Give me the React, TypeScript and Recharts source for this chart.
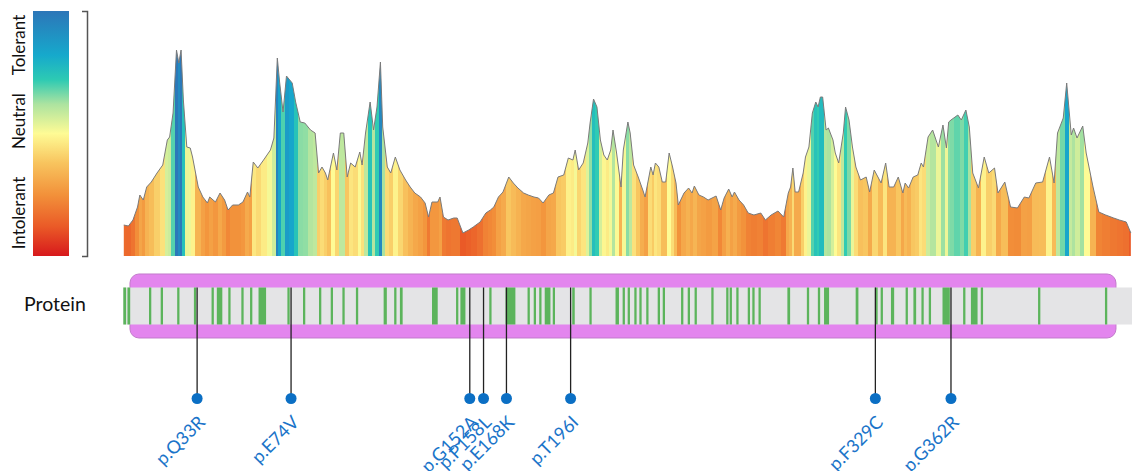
import React from "react";
import {
  ComposedChart,
  Area,
  XAxis,
  YAxis,
  ReferenceArea,
  ReferenceLine,
  Scatter,
} from "recharts";

// tolerance landscape, sampled along the protein (residue, score)
const residues = [
  1, 3, 5, 7, 8, 9.5, 11, 13, 15.5, 18, 20, 21, 22.5, 24, 25, 26, 27, 28.5, 30, 31,
  33.5, 35.5, 37.5, 38.5, 41, 43, 45, 46.5, 48.5, 51, 53, 55, 56, 57.5, 59.5, 62, 65,
  66.5, 68, 69, 70.5, 72, 74.5, 76, 78, 80, 82.5, 84.5, 86, 87.5, 89, 90, 92.5, 94,
  95.5, 97, 98.5, 100, 102, 104, 105, 106.5, 108.5, 110, 111.5, 113, 114, 116, 117.5,
  119.5, 121.5, 124, 126, 128, 130.5, 132.5, 134, 135.5, 138, 139, 140.5, 142.5, 145,
  146.5, 149, 151.5, 153.5, 156.5, 159, 161, 162.5, 164.5, 166.5, 169, 171, 173,
  175.5, 177.5, 180, 182, 184, 186.5, 188.5, 190.5, 193, 195, 197, 198, 199.5, 201.5,
  203.5, 204.5, 206, 207.5, 209, 210.5, 212, 213.5, 214.5, 216, 218, 219, 221, 222,
  223.5, 225.5, 227.5, 228.5, 231, 232, 233, 234.5, 236, 237.5, 239, 240.5, 242, 243,
  245.5, 247.5, 249, 250, 252, 254, 256, 259.5, 261.5, 263, 265, 266.5, 267.5, 269.5,
  271.5, 273.5, 276, 279, 281, 283.5, 286.5, 289, 291, 292, 293, 294, 295.5, 297.5,
  298.5, 300, 301.5, 303, 304, 305, 306, 307.5, 308.5, 310.5, 311.5, 313, 315, 316,
  317.5, 319, 320.5, 322.5, 325, 326.5, 328.5, 331.5, 333.5, 335, 337, 339, 341, 342,
  343.5, 345.5, 347.5, 349, 350, 352, 354, 356.5, 358.5, 360, 361, 362, 365, 366.5,
  368.5, 370, 371.5, 374, 376.5, 378.5, 381, 382.5, 385.5, 388, 391, 394, 396, 399,
  402, 405, 407, 408.5, 411, 412.5, 414.5, 415.5, 417, 419.5, 421, 424, 426.5, 429.5,
  433, 435.5, 438.5, 440.5,
];
const scores = [
  15.5, 15, 18, 24.5, 30.5, 28, 34.5, 37, 41.5, 45.5, 58, 59.5, 71.5, 103, 96.5, 103,
  78, 54.5, 54, 49.5, 34.5, 29.5, 26.5, 29.5, 27, 31.5, 28, 23, 25.5, 25.5, 27, 32,
  29.5, 47, 44, 48, 53, 59, 99, 87, 72, 90, 86.5, 77, 67, 66.5, 63, 61.5, 41.5, 44.5,
  41.5, 38, 51.5, 43, 61.5, 61.5, 39.5, 46.5, 44.5, 52, 45.5, 61.5, 77, 63, 74.5, 97,
  64.5, 44.5, 41.5, 49.5, 43, 38, 34.5, 31.5, 29.5, 26.5, 19.5, 27, 27, 29.5, 19.5,
  18, 19, 19, 11.5, 13, 14.5, 17, 21.5, 23, 24.5, 29.5, 32, 39.5, 36.5, 34, 31.5,
  30.5, 29.5, 29, 26.5, 30.5, 31.5, 39.5, 40.5, 49, 48, 53, 43, 46.5, 56.5, 66.5,
  78.5, 74.5, 58, 50.5, 48, 53, 63, 52, 34.5, 53, 67, 61.5, 45.5, 39.5, 33, 29.5,
  44.5, 40.5, 46.5, 44.5, 37, 37, 51.5, 44.5, 36.5, 25.5, 31.5, 34, 31.5, 35, 30.5,
  29.5, 28, 30, 23, 29, 33.5, 29.5, 32, 28, 25.5, 21.5, 20.5, 21.5, 18, 20.5, 22.5,
  19.5, 31.5, 34.5, 44, 32, 32, 41.5, 49.5, 54.5, 71.5, 77, 74.5, 79.5, 79.5, 63, 64,
  58, 51.5, 46.5, 61.5, 74.5, 68, 54.5, 44.5, 38, 39.5, 32, 43, 36.5, 46.5, 34.5,
  34.5, 39.5, 31.5, 36.5, 34, 39.5, 40.5, 46.5, 44.5, 59.5, 63, 54.5, 65.5, 54, 67,
  68, 70.5, 68, 73, 64.5, 41.5, 34, 49.5, 41.5, 44, 31.5, 37, 24.5, 24, 29.5, 29,
  36.5, 37, 49.5, 36.5, 61.5, 69, 86.5, 60.5, 64, 59, 65, 51.5, 34.5, 22, 20.5, 19,
  18, 17, 11.5,
];

// conserved / annotated residue ranges shown in green on the protein track
const stripes: [number, number][] = [
  [0.8, 2], [2.6, 3.8], [12, 13], [17.1, 18.1], [24.3, 25.3], [31.6, 32.6],
  [39.3, 40.3], [41.6, 44], [46.6, 47.6], [52.3, 53.3], [56.1, 57.1], [59.8, 63.1],
  [72.4, 73.4], [79.2, 80.2], [86.2, 87.2], [91.3, 92.3], [96.4, 97.4],
  [102.3, 103.3], [114.4, 115.8], [119, 120], [121.5, 122.7], [135.5, 138],
  [146, 147], [147.9, 150.1], [160.5, 161.5], [167.6, 171.9], [177.2, 178.2],
  [179.9, 180.9], [182.3, 183.3], [184.7, 187.2], [188.2, 189.2], [196.7, 197.8],
  [204.2, 205.2], [215.6, 217.1], [218.7, 219.7], [220.9, 221.9], [223.8, 224.8],
  [226, 227], [229, 230], [234, 235], [236.2, 237.2], [244.2, 245.2], [247.1, 248.1],
  [250.1, 251.1], [257.4, 258.4], [263.9, 264.9], [265.4, 266.4], [268.3, 269.3],
  [273.3, 274.3], [275.3, 276.3], [278, 279], [290.6, 291.8], [299.1, 300.1],
  [303.9, 304.9], [306.6, 308.8], [320.4, 321.6], [329, 330], [331.3, 332.3],
  [335.8, 337.2], [342.2, 343.2], [345.6, 346.8], [349.1, 350.1], [352.3, 353.3],
  [358.3, 361.5], [367.3, 368.3], [370.7, 373.6], [375, 376], [400, 401],
  [429.2, 430.2],
];

const variantNames = ["p.Q33R", "p.E74V", "p.G152A", "p.P158L", "p.E168K", "p.T196I", "p.F329C", "p.G362R"];
const variantPos = [33, 74, 152, 158, 168, 196, 329, 362];

const PROTEIN_LEN = 441;

const RAMP: [number, string][] = [
  [0, "#d7191c"],
  [0.12, "#ea5a27"],
  [0.25, "#f2913a"],
  [0.38, "#f8c45e"],
  [0.5, "#fefb95"],
  [0.62, "#ace3a0"],
  [0.72, "#2dcab3"],
  [0.82, "#16a9cc"],
  [1, "#2c76b8"],
];

function hexToRgb(h: string) {
  const n = parseInt(h.slice(1), 16);
  return [(n >> 16) & 255, (n >> 8) & 255, n & 255];
}

function rampColor(t: number): string {
  t = Math.max(0, Math.min(1, t));
  for (let i = 1; i < RAMP.length; i++) {
    const [t1, c1] = RAMP[i];
    const [t0, c0] = RAMP[i - 1];
    if (t <= t1) {
      const f = (t - t0) / (t1 - t0);
      const a = hexToRgb(c0);
      const b = hexToRgb(c1);
      const m = a.map((v, k) => Math.round(v + (b[k] - v) * f));
      return `rgb(${m[0]},${m[1]},${m[2]})`;
    }
  }
  return RAMP[RAMP.length - 1][1];
}

const scoreColor = (s: number) => rampColor(s * 0.0095 + 0.01);

const landscape = residues.map((r, i) => ({ r, score: scores[i] }));
const variants = variantPos.map((pos, i) => ({ pos, lane: -5, name: variantNames[i] }));

function stripeStops() {
  const r0 = residues[0];
  const rN = residues[residues.length - 1];
  const span = rN - r0;
  const out: React.ReactNode[] = [];
  residues.forEach((r, i) => {
    const a = i === 0 ? r0 : (residues[i - 1] + r) / 2;
    const b = i === residues.length - 1 ? rN : (r + residues[i + 1]) / 2;
    const c = scoreColor(scores[i]);
    out.push(<stop key={`a${i}`} offset={(a - r0) / span} stopColor={c} />);
    out.push(<stop key={`b${i}`} offset={(b - r0) / span} stopColor={c} />);
  });
  return out;
}

const Capsule = (p: any) => (
  <rect
    x={p.x}
    y={p.y}
    width={p.width}
    height={p.height}
    rx={9}
    ry={9}
    fill="#e385ee"
    stroke="#c27bcb"
    strokeWidth={1}
  />
);

const VariantMark = (p: any) => {
  const { cx, cy, payload } = p;
  const tx = cx + 9;
  const ty = cy + 25;
  return (
    <g>
      <circle cx={cx} cy={cy} r={5.5} fill="#0b6fc4" />
      <text
        x={tx}
        y={ty}
        transform={`rotate(-45, ${tx}, ${ty})`}
        textAnchor="end"
        fill="#1a74c9"
        fontSize={18}
        fontFamily="Lato, 'Noto Sans', sans-serif"
      >
        {payload.name}
      </text>
    </g>
  );
};

function Legend() {
  return (
    <svg width={120} height={471} style={{ position: "absolute", left: 0, top: 0 }}>
      <defs>
        <linearGradient id="legendRamp" x1="0" y1="1" x2="0" y2="0">
          {RAMP.map(([t, c]) => (
            <stop key={t} offset={t} stopColor={c} />
          ))}
        </linearGradient>
      </defs>
      <rect x={33} y={11} width={36} height={245} fill="url(#legendRamp)" />
      {[
        ["Tolerant", 45],
        ["Neutral", 121],
        ["Intolerant", 213],
      ].map(([label, y]) => (
        <text
          key={label as string}
          x={25}
          y={y as number}
          transform={`rotate(-90, 25, ${y})`}
          textAnchor="middle"
          fontSize={17}
          fontFamily="Lato, 'Noto Sans', sans-serif"
          fill="#111"
        >
          {label}
        </text>
      ))}
      <path d="M82 11.5 H87.5 V256.5 H82" fill="none" stroke="#555" strokeWidth={1.5} />
      <text x={24} y={311} fontSize={19.5} fontFamily="Lato, 'Noto Sans', sans-serif" fill="#111">
        Protein
      </text>
    </svg>
  );
}

export default function App() {
  return (
    <div
      style={{
        position: "absolute",
        left: 0,
        top: 0,
        width: 1132,
        height: 471,
        background: "#fff",
        overflow: "hidden",
        fontFamily: "Lato, 'Noto Sans', sans-serif",
      }}
    >
      <Legend />
      <div style={{ position: "absolute", left: 0, top: 0 }}>
        <ComposedChart
          width={1132}
          height={260}
          data={landscape}
          margin={{ top: 36, right: 0, bottom: 4, left: 121.5 }}
        >
          <defs>
            <linearGradient id="tolStripes" x1="0" y1="0" x2="1" y2="0">
              {stripeStops()}
            </linearGradient>
          </defs>
          <XAxis type="number" dataKey="r" domain={[0, PROTEIN_LEN]} hide allowDataOverflow />
          <YAxis type="number" domain={[0, 110]} hide width={0} allowDataOverflow />
          <Area
            type="linear"
            dataKey="score"
            stroke="#7a7a7a"
            strokeWidth={1}
            fill="url(#tolStripes)"
            fillOpacity={1}
            dot={false}
            activeDot={false}
            isAnimationActive={false}
          />
        </ComposedChart>
      </div>
      <div style={{ position: "absolute", left: 0, top: 269 }}>
        <ComposedChart
          width={1132}
          height={202}
          data={variants}
          margin={{ top: 0, right: 0, bottom: 0, left: 121.5 }}
        >
          <XAxis type="number" dataKey="pos" domain={[0, PROTEIN_LEN]} hide />
          <YAxis type="number" dataKey="lane" domain={[-8.92, 2]} hide width={0} />
          <ReferenceArea x1={3.7} x2={434} y1={-1.73} y2={1.73} shape={Capsule} />
          <ReferenceArea x1={0.7} x2={PROTEIN_LEN} y1={-1} y2={1} fill="#e4e4e6" fillOpacity={1} stroke="none" />
          {stripes.map(([a, b], i) => (
            <ReferenceArea key={i} x1={a} x2={b} y1={-1} y2={1} fill="#5cb45c" fillOpacity={1} stroke="none" />
          ))}
          {variantPos.map((p) => (
            <ReferenceLine
              key={p}
              segment={[
                { x: p, y: 1 },
                { x: p, y: -5 },
              ]}
              stroke="#222"
              strokeWidth={1.3}
            />
          ))}
          <Scatter dataKey="lane" shape={VariantMark} isAnimationActive={false} />
        </ComposedChart>
      </div>
    </div>
  );
}
